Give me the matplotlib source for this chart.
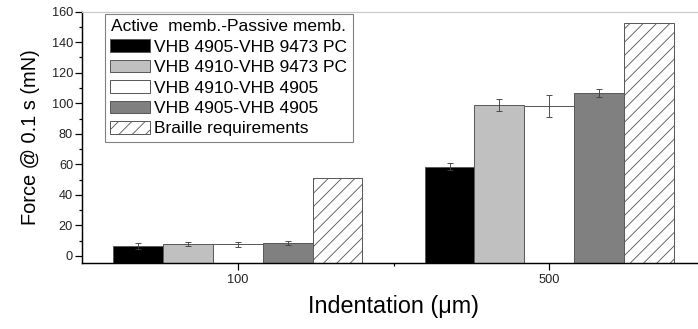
import matplotlib
matplotlib.use("Agg")
import matplotlib.pyplot as plt
from matplotlib.ticker import MultipleLocator, FixedLocator
import numpy as np

plt.rcParams['font.family'] = ['Liberation Sans', 'DejaVu Sans']
plt.rcParams['hatch.linewidth'] = 0.8

categories = ['100', '500']
series_labels = ['VHB 4905-VHB 9473 PC', 'VHB 4910-VHB 9473 PC',
                 'VHB 4910-VHB 4905', 'VHB 4905-VHB 4905', 'Braille requirements']
s1 = [6.2, 58.5]
s2 = [7.5, 98.7]
s3 = [7.7, 98.2]
s4 = [8.3, 106.8]
braille = [51.0, 152.5]
s1_err = [1.9, 2.5]
s2_err = [1.3, 4.0]
s3_err = [1.6, 7.0]
s4_err = [1.1, 2.8]

values = [s1, s2, s3, s4, braille]
errors = [s1_err, s2_err, s3_err, s4_err, None]
faces = ['black', '#c0c0c0', 'white', '#808080', 'white']
hatches = [None, None, None, None, '//']

DPI = 80
fig = plt.figure(figsize=(698 / DPI, 329 / DPI), dpi=DPI)
W, H = 698, 329
ax = fig.add_axes([82 / W, (H - 262.7) / H, (705 - 82) / W, (262.7 - 11.7) / H])

ymin, ymax = -4.5, 160
x = np.arange(len(categories))
w = 0.16
for i, (vals, err, fc, hz, lab) in enumerate(zip(values, errors, faces, hatches, series_labels)):
    pos = x + (i - 2) * w
    vals = np.array(vals)
    ax.bar(pos, vals - ymin, bottom=ymin, width=w, color=fc, edgecolor='#5a5a5a',
           linewidth=0.9, hatch=hz, label=lab, zorder=2)
    if err is not None:
        ax.errorbar(pos, vals, yerr=err, fmt='none', ecolor='#404040',
                    elinewidth=0.8, capsize=2.7, capthick=0.8, zorder=3)

ax.set_xlim(-0.5, 1.5)
ax.set_ylim(ymin, ymax)
ax.set_xticks(x)
ax.set_xticklabels(categories)
ax.xaxis.set_minor_locator(FixedLocator([0.5]))
ax.yaxis.set_major_locator(MultipleLocator(20))
ax.yaxis.set_minor_locator(MultipleLocator(10))
ax.tick_params(axis='both', which='major', direction='out', length=6, width=1.1,
               labelsize=11.5, pad=2, labelcolor='#222222')
ax.tick_params(axis='both', which='minor', direction='out', length=3, width=1.1)
ax.tick_params(axis='x', which='major', pad=4)
ax.set_ylim(ymin, ymax)

for s in ['left', 'bottom']:
    ax.spines[s].set_linewidth(1.3)
    ax.spines[s].set_color('black')
ax.spines['top'].set_color('#c8c8c8')
ax.spines['top'].set_linewidth(1.0)
ax.spines['right'].set_visible(False)

ax.set_xlabel('Indentation (\u03bcm)', fontsize=21, labelpad=8)
ax.set_ylabel('Force @ 0.1 s (mN)', fontsize=18, labelpad=11)

leg = ax.legend(loc='upper left', bbox_to_anchor=(105 / W, 1 - 14 / H),
                bbox_transform=fig.transFigure, borderaxespad=0,
                title='Active  memb.-Passive memb.', fontsize=15.6, title_fontsize=15.6,
                frameon=True, fancybox=False, shadow=False, framealpha=1,
                edgecolor='#808080', handlelength=2.3, handleheight=0.72,
                handletextpad=0.25, labelspacing=0.3, borderpad=0.3)
leg.get_frame().set_linewidth(1.0)

fig.savefig('out.png', dpi=DPI)
